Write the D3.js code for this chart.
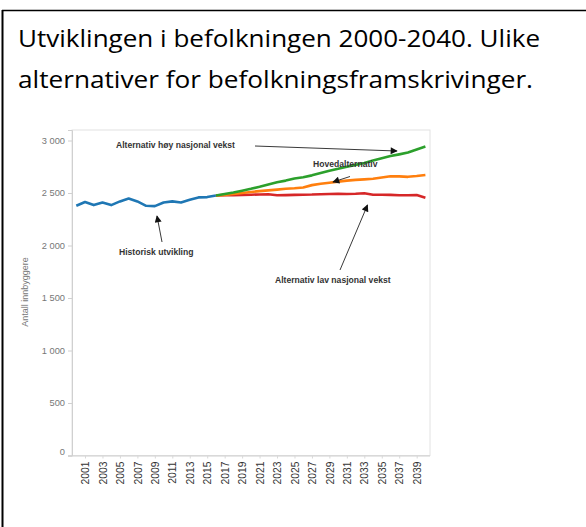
<!DOCTYPE html>
<html>
<head>
<meta charset="utf-8">
<script src="https://cdn.jsdelivr.net/npm/d3@7"></script>
<style>
  body { margin: 0; background: #fff; }
  svg { display: block; }
</style>
</head>
<body>
<div id="chart"></div>
<script>
// Years on the x axis
const years = d3.range(2000, 2041);
const tickYears = d3.range(2001, 2040, 2);
const yTicks = [0, 500, 1000, 1500, 2000, 2500, 3000];

// Historic population 2000-2016
const historisk = [2378, 2414, 2385, 2410, 2385, 2420, 2448, 2420, 2378, 2375,
    2410, 2420, 2410, 2436, 2458, 2461, 2476];

// Projections 2016-2040
const hoy = [2476, 2490, 2505, 2522, 2540, 2560, 2582, 2603, 2618, 2638, 2650, 2668,
    2690, 2712, 2730, 2750, 2768, 2786, 2810, 2832, 2852, 2868, 2885, 2915, 2942];
const hoved = [2476, 2482, 2490, 2500, 2510, 2518, 2525, 2532, 2540, 2545, 2552, 2575,
    2588, 2598, 2608, 2618, 2625, 2630, 2636, 2648, 2660, 2658, 2654, 2662, 2672];
const lav = [2476, 2478, 2480, 2482, 2484, 2486, 2488, 2478, 2480, 2482, 2484, 2485,
    2488, 2490, 2492, 2490, 2493, 2498, 2484, 2484, 2482, 2478, 2478, 2480, 2455];

const series = [
    { name: "Historisk", start: 2000, values: historisk, color: "#1f77b4" },
    { name: "Lav", start: 2016, values: lav, color: "#d62728" },
    { name: "Hoved", start: 2016, values: hoved, color: "#ff7f0e" },
    { name: "Hoy", start: 2016, values: hoy, color: "#2ca02c" },
];

const W = 586, H = 527;
const plot = { left: 72, right: 430, top: 130, bottom: 455.5 };

const svg = d3.select("#chart").append("svg")
    .attr("width", W).attr("height", H);

// Outer frame (left and top edges)
svg.append("line").attr("x1", 2.5).attr("x2", 2.5).attr("y1", 10).attr("y2", H)
    .attr("stroke", "#000").attr("stroke-width", 2);
svg.append("line").attr("x1", 2).attr("x2", W).attr("y1", 10.5).attr("y2", 10.5)
    .attr("stroke", "#000").attr("stroke-width", 1.5);

// Title
const titleLines = ["Utviklingen i befolkningen 2000-2040. Ulike",
    "alternativer for befolkningsframskrivinger."];
const titleWidths = [522, 515];
titleLines.forEach((t, i) => {
    svg.append("text")
        .attr("x", 18)
        .attr("y", 47 + i * 41)
        .attr("font-family", "'Open Sans', 'Noto Sans', sans-serif")
        .attr("font-size", 23)
        .attr("fill", "#000")
        .attr("textLength", titleWidths[i])
        .attr("lengthAdjust", "spacingAndGlyphs")
        .text(t);
});

// Scales
const x = d3.scaleLinear().domain([2000, 2040]).range([76.3, 425.4]);
const y = d3.scaleLinear().domain([0, 3100]).range([plot.bottom, plot.top]);

// Plot frame
svg.append("rect")
    .attr("x", plot.left).attr("y", plot.top)
    .attr("width", plot.right - plot.left).attr("height", plot.bottom - plot.top)
    .attr("fill", "none").attr("stroke", "#e2e2e2").attr("stroke-width", 1);

// Y axis
const fmt = (v) => d3.format(",")(v).replace(/,/g, " ");
const yAxis = svg.append("g")
    .attr("transform", `translate(${plot.left},0)`)
    .call(d3.axisLeft(y).tickValues(yTicks).tickSize(4).tickPadding(3).tickFormat(fmt));
yAxis.select(".domain").attr("stroke", "#d0d0d0");
yAxis.selectAll(".tick line").attr("stroke", "#d0d0d0");
yAxis.selectAll(".tick text")
    .attr("font-family", "Arial, 'Liberation Sans', sans-serif")
    .attr("font-size", 9.3).attr("fill", "#777");
yAxis.selectAll(".tick").filter((d) => d === 0).select("text").attr("dy", "-0.1em");

// Y axis title
svg.append("text")
    .attr("transform", "rotate(-90)")
    .attr("x", -292).attr("y", 28)
    .attr("text-anchor", "middle")
    .attr("font-family", "Arial, 'Liberation Sans', sans-serif")
    .attr("font-size", 9).attr("fill", "#777")
    .text("Antall innbyggere");

// X axis
const xAxis = svg.append("g")
    .attr("transform", `translate(0,${plot.bottom})`)
    .call(d3.axisBottom(x).tickValues(tickYears).tickSize(3).tickFormat(d3.format("d")));
xAxis.select(".domain").attr("d", `M${plot.left - 4},0.5H${plot.right}`).attr("stroke", "#d0d0d0");
xAxis.selectAll(".tick line").attr("stroke", "#d8d8d8");
xAxis.selectAll(".tick text")
    .attr("transform", "rotate(-90)")
    .attr("text-anchor", "end")
    .attr("x", -6).attr("y", 0).attr("dy", "0.35em")
    .attr("font-family", "Arial, 'Liberation Sans', sans-serif")
    .attr("font-size", 10.3).attr("fill", "#333");

// Lines
const line = d3.line()
    .x((d) => x(d.year))
    .y((d) => y(d.value));

series.forEach((s) => {
    const pts = s.values.map((v, i) => ({ year: s.start + i, value: v }));
    svg.append("path")
        .datum(pts)
        .attr("fill", "none")
        .attr("stroke", s.color)
        .attr("stroke-width", 2.6)
        .attr("stroke-linejoin", "round")
        .attr("d", line);
});

// Annotations
svg.append("defs").append("marker")
    .attr("id", "arrow")
    .attr("viewBox", "0 0 10 10")
    .attr("refX", 9).attr("refY", 5)
    .attr("markerWidth", 9).attr("markerHeight", 7)
    .attr("markerUnits", "userSpaceOnUse")
    .attr("orient", "auto")
    .append("path").attr("d", "M0,0L10,5L0,10z").attr("fill", "#111");

const notes = [
    { text: "Alternativ høy nasjonal vekst", tx: 116, ty: 148, from: [255, 146], to: [397, 151] },
    { text: "Hovedalternativ", tx: 313, ty: 167, from: [350, 176.5], to: [333, 182] },
    { text: "Historisk utvikling", tx: 119, ty: 255, from: [162, 242], to: [157, 216] },
    { text: "Alternativ lav nasjonal vekst", tx: 275, ty: 283, from: [340, 270], to: [367.5, 205] },
];

notes.forEach((n) => {
    svg.append("text")
        .attr("x", n.tx).attr("y", n.ty)
        .attr("font-family", "Arial, 'Liberation Sans', sans-serif")
        .attr("font-size", 8.6).attr("font-weight", "bold").attr("fill", "#333")
        .text(n.text);
    svg.append("line")
        .attr("x1", n.from[0]).attr("y1", n.from[1])
        .attr("x2", n.to[0]).attr("y2", n.to[1])
        .attr("stroke", "#222").attr("stroke-width", 0.9)
        .attr("marker-end", "url(#arrow)");
});
</script>
</body>
</html>
